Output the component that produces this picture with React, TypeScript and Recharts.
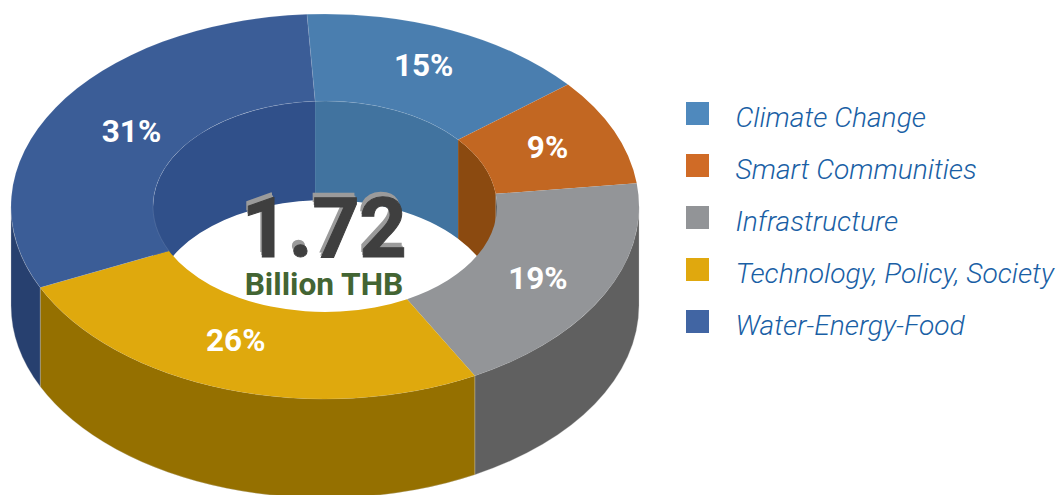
import { PieChart, Pie, Legend } from 'recharts';

const names = ['Climate Change', 'Smart Communities', 'Infrastructure', 'Technology, Policy, Society', 'Water-Energy-Food'];
const shares = [15, 9, 19, 26, 31];
const topColors = ['#4a7eaf', '#c26722', '#939598', '#dfa90d', '#3b5d97'];
const outerWallColors = ['#41739f', '#8b4a10', '#606060', '#957000', '#27406f'];
const innerWallColors = ['#41739f', '#8b4a10', '#606060', '#957000', '#30508a'];
const legendColors = ['#4f89bd', '#d06b26', '#929497', '#e0a80e', '#4165a3'];
// hand nudges, the original labels do not sit exactly mid-ring
const labelNudgeX = [1, -1, -3, -13, 15];
const labelNudgeY = [-5, -1, 4, -7, 2];
const totalValue = '1.72';
const totalUnit = 'Billion THB';

const data = names.map((name, i) => ({ name, value: shares[i] }));

// the flat pie is squashed into an ellipse and extruded by hand
const SQUASH = 192.5 / 314;
const DEPTH = 99;
const START = 93.3;
const RAD = Math.PI / 180;

const pt = (cx: number, cy: number, r: number, a: number, drop = 0) =>
  `${cx + r * Math.cos(a * RAD)} ${cy - r * SQUASH * Math.sin(a * RAD) + drop}`;

const arc = (cx: number, cy: number, r: number, to: number, sweep: number, drop = 0) =>
  `A ${r} ${r * SQUASH} 0 0 ${sweep} ${pt(cx, cy, r, to, drop)}`;

const wallPath = (cx: number, cy: number, r: number, a1: number, a2: number) =>
  `M ${pt(cx, cy, r, a1)} ${arc(cx, cy, r, a2, 1)} L ${pt(cx, cy, r, a2, DEPTH)} ${arc(cx, cy, r, a1, 0, DEPTH)} Z`;

// clip a clockwise angle span to a [lo, hi] window
const clip = (start: number, end: number, lo: number, hi: number) => {
  const a1 = Math.min(start, hi);
  const a2 = Math.max(end, lo);
  return a1 > a2 ? [a1, a2] : null;
};

function TopFace(props: any) {
  const { cx, cy, innerRadius: ri, outerRadius: ro, startAngle: s, endAngle: e, payload, name } = props;
  const idx = names.indexOf(payload?.name ?? name);
  const d = `M ${pt(cx, cy, ro, s)} ${arc(cx, cy, ro, e, 1)} L ${pt(cx, cy, ri, e)} ${arc(cx, cy, ri, s, 0)} Z`;
  return <path d={d} fill={topColors[idx]} stroke="#ffffff" strokeOpacity={idx === 0 || idx === 4 ? 0.15 : 0} strokeWidth={0.7} />;
}

function OuterWall(props: any) {
  const { cx, cy, outerRadius: ro, startAngle: s, endAngle: e, payload, name } = props;
  const idx = names.indexOf(payload?.name ?? name);
  const span = clip(s, e, -180, 0);
  if (!span) return <g />;
  return <path d={wallPath(cx, cy, ro, span[0], span[1])} fill={outerWallColors[idx]} stroke="#c9c9c9" strokeOpacity={0.5} strokeWidth={0.6} />;
}

function InnerWall(props: any) {
  const { cx, cy, innerRadius: ri, startAngle: s, endAngle: e, payload, name } = props;
  const idx = names.indexOf(payload?.name ?? name);
  const spans = [clip(s, e, 0, 180), clip(s, e, -360, -180)].filter(Boolean) as number[][];
  return (
    <g>
      {spans.map((sp, i) => (
        <path key={i} d={wallPath(cx, cy, ri, sp[0], sp[1])} fill={innerWallColors[idx]} />
      ))}
    </g>
  );
}

function ShareLabel(props: any) {
  const { cx, cy, innerRadius, outerRadius, midAngle, value, name, payload } = props;
  const idx = names.indexOf(payload?.name ?? name);
  const r = (innerRadius + outerRadius) / 2;
  const x = cx + r * Math.cos(midAngle * RAD) + labelNudgeX[idx];
  const y = cy - r * SQUASH * Math.sin(midAngle * RAD) + labelNudgeY[idx];
  return (
    <text x={x} y={y} textAnchor="middle" dominantBaseline="central" fill="#ffffff" fontFamily="Roboto" fontWeight={700} fontSize={31.5}>
      {value}%
    </text>
  );
}

// three Pies share the data, so the legend payload repeats: keep one of each
function LegendList({ payload }: any) {
  const seen = new Set(((payload ?? []) as any[]).map((p) => p.value));
  return (
    <div>
      {names.filter((n) => seen.has(n)).map((n) => (
        <div key={n} style={{ display: 'flex', alignItems: 'center', height: 23, marginBottom: 29 }}>
          <span style={{ width: 23, height: 23, background: legendColors[names.indexOf(n)], marginRight: 26.5 }} />
          <span style={{ fontFamily: 'Roboto', fontStyle: 'italic', fontWeight: 300, fontSize: 28.2, color: '#1a5fa5', whiteSpace: 'nowrap', position: 'relative', top: 3.5 }}>
            {n}
          </span>
        </div>
      ))}
    </div>
  );
}

const pieBase = {
  data,
  dataKey: 'value',
  nameKey: 'name',
  cx: 325,
  cy: 206.5,
  innerRadius: 172,
  outerRadius: 314,
  startAngle: START,
  endAngle: START - 360,
  isAnimationActive: false,
  stroke: 'none',
};

const totalStyle = { fontFamily: 'Roboto', fontWeight: 700, fontSize: 83, letterSpacing: -0.5 };

export default function App() {
  return (
    <div style={{ position: 'absolute', left: 0, top: 0, width: 1061, height: 495, background: '#ffffff' }}>
      <PieChart width={1061} height={495} margin={{ top: 0, right: 0, bottom: 0, left: 0 }}>
        <Pie {...pieBase} legendType="none" shape={InnerWall} />
        <Pie {...pieBase} legendType="none" shape={OuterWall} />
        <Pie {...pieBase} shape={TopFace} label={ShareLabel} labelLine={false} />
        <Legend
          layout="vertical"
          content={LegendList}
          wrapperStyle={{ position: 'absolute', left: 686, top: 102, width: 375, bottom: 'auto', right: 'auto' }}
        />
      </PieChart>
      {/* recharts paints plain children under the Pie layer, so the total goes in its own svg on top */}
      <svg width={1061} height={495} style={{ position: 'absolute', left: 0, top: 0, pointerEvents: 'none' }}>
        <text x={322} y={252} textAnchor="middle" fill="#9b9b9b" {...totalStyle}>{totalValue}</text>
        <text x={323} y={254.5} textAnchor="middle" fill="#9b9b9b" {...totalStyle}>{totalValue}</text>
        <text x={324} y={257} textAnchor="middle" fill="#3f3f3f" stroke="#3f3f3f" strokeWidth={1} {...totalStyle}>{totalValue}</text>
        <text x={324} y={295} textAnchor="middle" fontFamily="Roboto" fontWeight={700} fontSize={31.7} fill="#436533">{totalUnit}</text>
      </svg>
    </div>
  );
}
